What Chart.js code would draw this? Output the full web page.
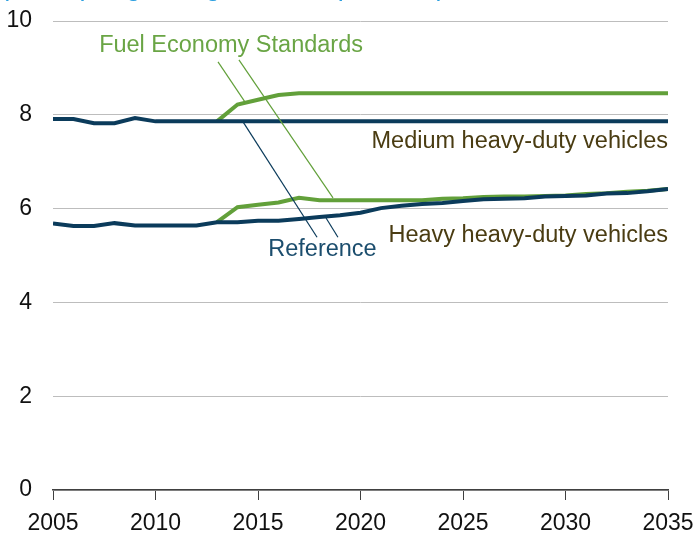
<!DOCTYPE html>
<html>
<head>
<meta charset="utf-8">
<script src="https://cdn.jsdelivr.net/npm/chart.js@4"></script>
<style>
  html, body { margin: 0; padding: 0; background: #fff; }
  #wrap { width: 695px; height: 538px; position: relative; }
</style>
</head>
<body>
<div id="wrap"><canvas id="chart"></canvas></div>
<script>
// years on the x axis
var years = [2005, 2006, 2007, 2008, 2009, 2010, 2011, 2012, 2013, 2014, 2015,
             2016, 2017, 2018, 2019, 2020, 2021, 2022, 2023, 2024, 2025,
             2026, 2027, 2028, 2029, 2030, 2031, 2032, 2033, 2034, 2035];

// medium heavy-duty vehicles
var mediumReference = [7.91, 7.91, 7.82, 7.82, 7.93, 7.86, 7.86, 7.86, 7.86, 7.86, 7.86,
                       7.86, 7.86, 7.86, 7.86, 7.86, 7.86, 7.86, 7.86, 7.86, 7.86,
                       7.86, 7.86, 7.86, 7.86, 7.86, 7.86, 7.86, 7.86, 7.86, 7.86];
var mediumStandards = [null, null, null, null, null, null, null, null, 7.86, 8.22, 8.32,
                       8.42, 8.46, 8.46, 8.46, 8.46, 8.46, 8.46, 8.46, 8.46, 8.46,
                       8.46, 8.46, 8.46, 8.46, 8.46, 8.46, 8.46, 8.46, 8.46, 8.46];

// heavy heavy-duty vehicles
var heavyReference = [5.68, 5.63, 5.63, 5.69, 5.64, 5.64, 5.64, 5.64, 5.71, 5.71, 5.74,
                      5.74, 5.78, 5.82, 5.86, 5.91, 6.01, 6.06, 6.10, 6.12, 6.16,
                      6.20, 6.21, 6.22, 6.26, 6.27, 6.28, 6.32, 6.33, 6.37, 6.42];
var heavyStandards = [null, null, null, null, null, null, null, null, 5.71, 6.03, 6.08,
                      6.13, 6.23, 6.18, 6.18, 6.18, 6.18, 6.18, 6.18, 6.21, 6.22,
                      6.25, 6.26, 6.26, 6.27, 6.28, 6.31, 6.33, 6.36, 6.38, 6.42];

var yTicks = [0, 2, 4, 6, 8, 10];
var xTicks = [2005, 2010, 2015, 2020, 2025, 2030, 2035];

var NAVY = '#0b3b5b';
var GREEN = '#62a03a';
var FONT = '"Liberation Sans", Arial, sans-serif';

function points(vals) {
  var out = [];
  for (var i = 0; i < years.length; i++) {
    if (vals[i] !== null) out.push({ x: years[i], y: vals[i] });
  }
  return out;
}

function line(label, vals, color) {
  return {
    label: label,
    data: points(vals),
    borderColor: color,
    backgroundColor: color,
    borderWidth: 4,
    pointRadius: 0,
    tension: 0,
    fill: false
  };
}

// labels and leader lines, positioned in data units
var notes = [
  { text: 'Fuel Economy Standards', x: 2007.25, y: 9.33, color: '#6aa545', align: 'left' },
  { text: 'Medium heavy-duty vehicles', x: 2035, y: 7.29, color: '#4a3c12', align: 'right' },
  { text: 'Heavy heavy-duty vehicles', x: 2035, y: 5.29, color: '#4a3c12', align: 'right' },
  { text: 'Reference', x: 2015.5, y: 4.99, color: '#1b4d6d', align: 'left' }
];
var leaders = [
  { from: [2013.05, 9.13], to: [2014.37, 8.27], color: GREEN },
  { from: [2014.07, 9.17], to: [2018.66, 6.23], color: GREEN },
  { from: [2014.27, 7.85], to: [2017.88, 5.39], color: NAVY },
  { from: [2018.32, 5.80], to: [2018.90, 5.39], color: NAVY }
];

var notesPlugin = {
  id: 'notes',
  afterDatasetsDraw: function (chart) {
    var ctx = chart.ctx, xs = chart.scales.x, ys = chart.scales.y;
    ctx.save();
    leaders.forEach(function (l) {
      ctx.beginPath();
      ctx.strokeStyle = l.color;
      ctx.lineWidth = 1.2;
      ctx.moveTo(xs.getPixelForValue(l.from[0]), ys.getPixelForValue(l.from[1]));
      ctx.lineTo(xs.getPixelForValue(l.to[0]), ys.getPixelForValue(l.to[1]));
      ctx.stroke();
    });
    ctx.font = '23.5px ' + FONT;
    ctx.textBaseline = 'alphabetic';
    notes.forEach(function (n) {
      ctx.fillStyle = n.color;
      ctx.textAlign = n.align;
      ctx.fillText(n.text, xs.getPixelForValue(n.x), ys.getPixelForValue(n.y));
    });
    // title, cut off by the top edge of the picture
    ctx.fillStyle = '#2b9fe0';
    ctx.textAlign = 'left';
    ctx.font = '27px ' + FONT;
    ctx.fillText('(miles per gallon gasoline equivalent)', 0, -5);
    ctx.restore();
  }
};

new Chart(document.getElementById('chart'), {
  type: 'line',
  data: {
    datasets: [
      line('Medium Reference', mediumReference, NAVY),
      line('Heavy Reference', heavyReference, NAVY),
      line('Medium Fuel Economy Standards', mediumStandards, GREEN),
      line('Heavy Fuel Economy Standards', heavyStandards, GREEN)
    ]
  },
  options: {
    responsive: true,
    maintainAspectRatio: false,
    animation: false,
    layout: { padding: { top: 21, right: 27, left: 0, bottom: 0 } },
    plugins: {
      legend: { display: false },
      tooltip: { enabled: false }
    },
    scales: {
      x: {
        type: 'linear',
        min: 2005,
        max: 2035,
        afterBuildTicks: function (s) { s.ticks = xTicks.map(function (v) { return { value: v }; }); },
        afterFit: function (s) {
          s.height = 48;
          s.paddingLeft = 0; s.paddingRight = 0;
        },
        grid: { drawOnChartArea: false, drawTicks: true, tickLength: 10, color: '#404040', lineWidth: 1 },
        border: { display: true, color: '#404040', width: 1.5 },
        ticks: {
          color: '#111',
          padding: 10,
          maxRotation: 0,
          font: { family: FONT, size: 23 },
          callback: function (v) { return String(v); }
        }
      },
      y: {
        min: 0,
        max: 10,
        afterBuildTicks: function (s) { s.ticks = yTicks.map(function (v) { return { value: v }; }); },
        afterFit: function (s) {
          s.width = 53;
          s.paddingTop = 0; s.paddingBottom = 0;
        },
        grid: { color: '#bdbdbd', lineWidth: 1, drawTicks: false },
        border: { display: false },
        ticks: {
          color: '#111',
          padding: 21,
          font: { family: FONT, size: 23 }
        }
      }
    }
  },
  plugins: [notesPlugin]
});
</script>
</body>
</html>
